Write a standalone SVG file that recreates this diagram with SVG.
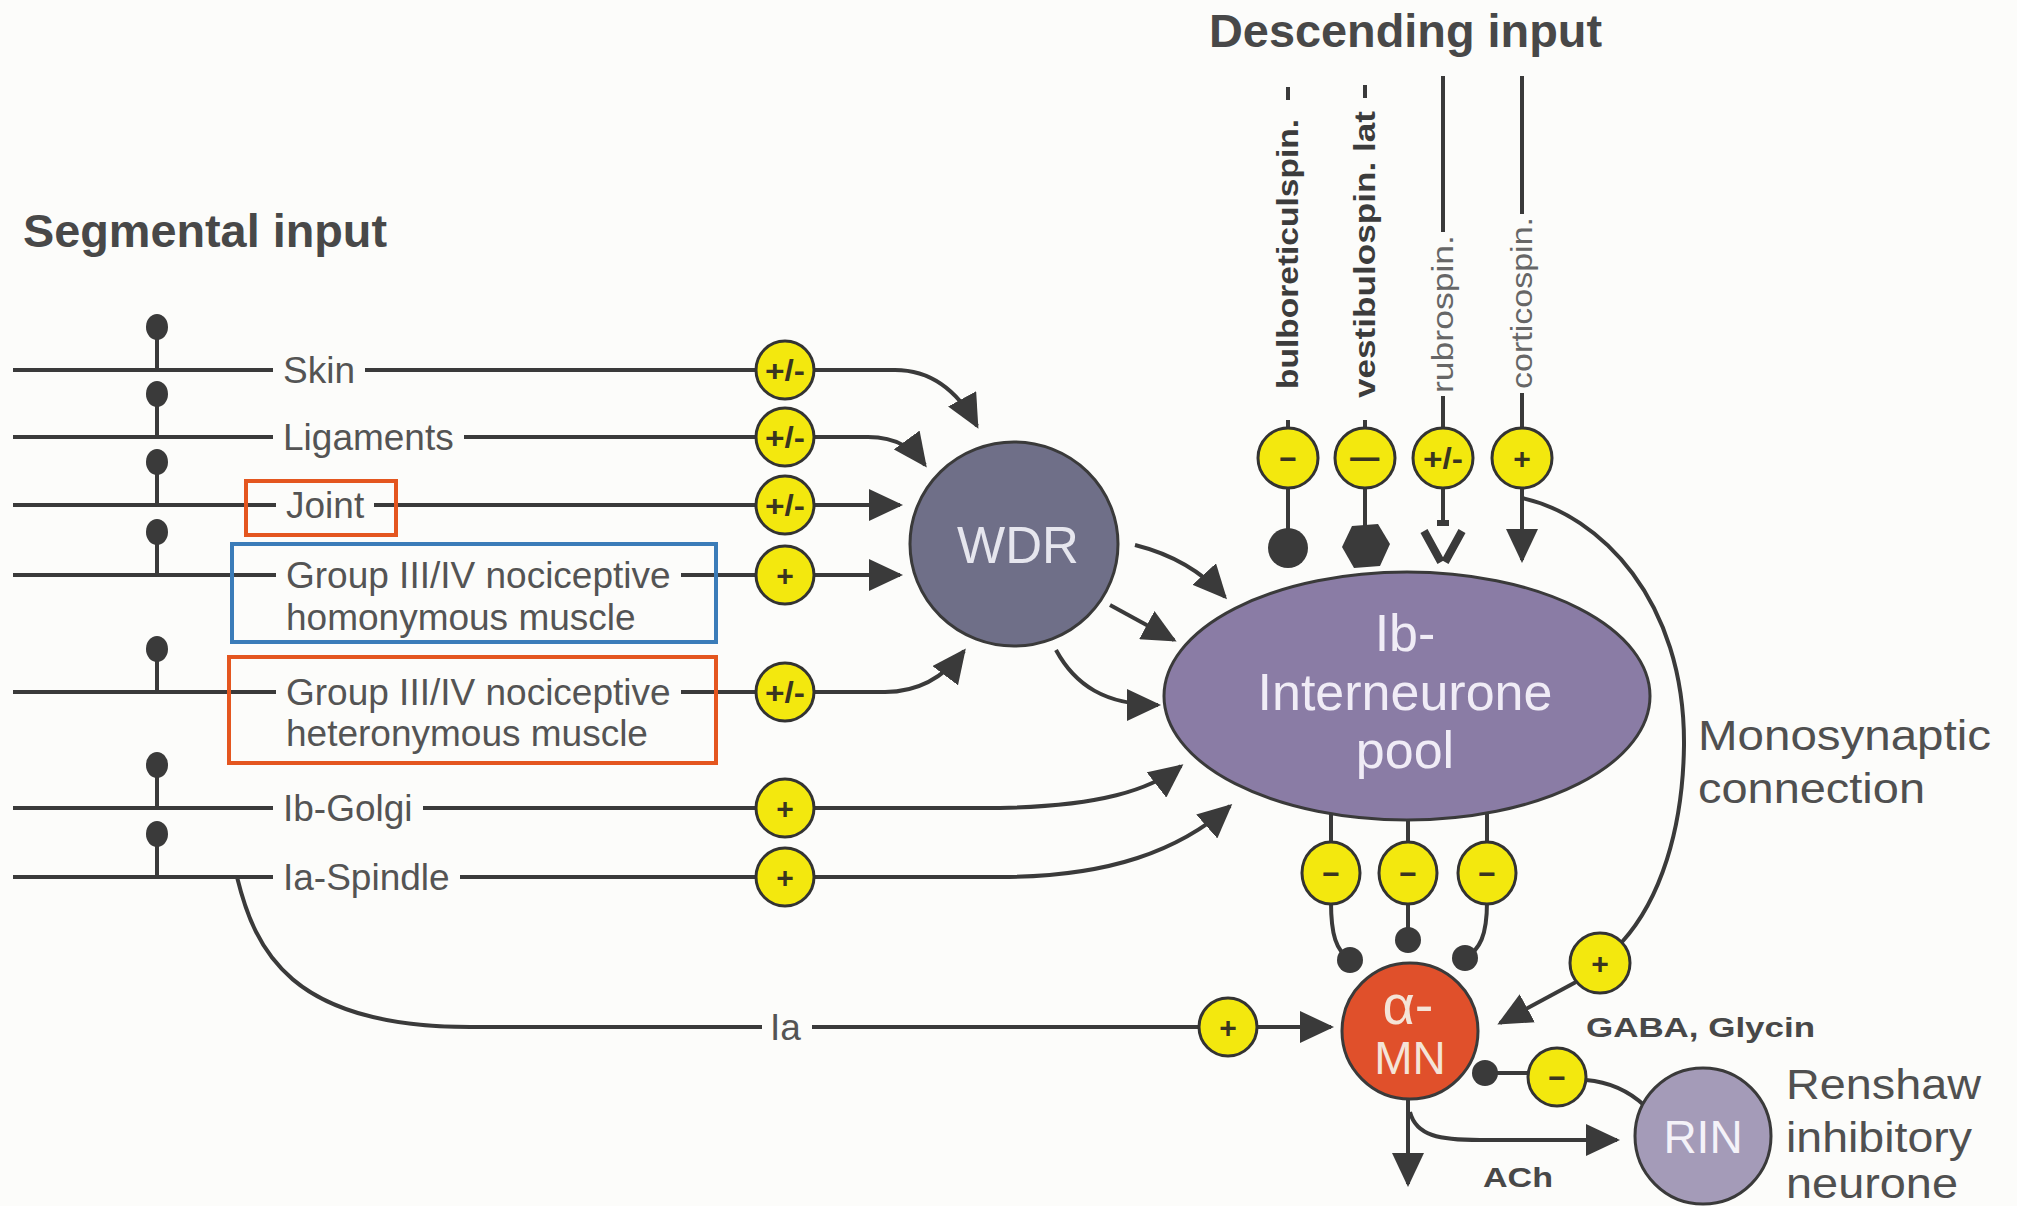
<svg xmlns="http://www.w3.org/2000/svg" width="2017" height="1206" viewBox="0 0 2017 1206">
<defs>
<style>
.ln{fill:none;stroke:#3a3a3a;stroke-width:4}
.lbl{font-family:"Liberation Sans",Arial,sans-serif;font-size:37px;fill:#545454}
.hd{font-family:"Liberation Sans",Arial,sans-serif;font-weight:bold;fill:#484848}
.big{font-family:"Liberation Sans",Arial,sans-serif;font-size:42px;fill:#505050}
.bdg{fill:#f3e80e;stroke:#333;stroke-width:3}
.bt{font-family:"Liberation Sans",Arial,sans-serif;font-weight:bold;font-size:30px;fill:#3a3520;text-anchor:middle}
.dot{fill:#3a3a3a}
.bulb{fill:#3a3a3a}
.box{fill:none;stroke-width:4}
.vt{font-family:"Liberation Sans",Arial,sans-serif;font-size:30px}
.nt{font-family:"Liberation Sans",Arial,sans-serif;text-anchor:middle}
</style>
<marker id="ah" viewBox="0 0 34 32" refX="31" refY="16" markerWidth="34" markerHeight="32" markerUnits="userSpaceOnUse" orient="auto"><path d="M0,0 L34,16 L0,32 z" fill="#3a3a3a"/></marker>
</defs>
<rect x="0" y="0" width="2017" height="1206" fill="#fcfcfa"/>

<text class="hd" x="23" y="247" font-size="47" textLength="364" lengthAdjust="spacingAndGlyphs">Segmental input</text>
<text class="hd" x="1209" y="47" font-size="46" textLength="393" lengthAdjust="spacingAndGlyphs">Descending input</text>

<g id="connectors">
  <!-- segmental input lines -->
  <path class="ln" d="M13,370 H273 M365,370 H756"/>
  <path class="ln" d="M13,437 H273 M464,437 H756"/>
  <path class="ln" d="M13,505 H276 M374,505 H756"/>
  <path class="ln" d="M13,575 H276 M681,575 H756"/>
  <path class="ln" d="M13,692 H276 M681,692 H756"/>
  <path class="ln" d="M13,808 H273 M423,808 H756"/>
  <path class="ln" d="M13,877 H273 M460,877 H756"/>
  <!-- stems -->
  <path class="ln" d="M157,339 V370 M157,406 V437 M157,474 V505 M157,544 V575 M157,661 V692 M157,777 V808 M157,846 V877"/>
  <!-- Ia branch -->
  <path class="ln" d="M237,877 C255,950 290,1027 470,1027 H762 M812,1027 H1199"/>
  <path class="ln" d="M1257,1027 H1331" marker-end="url(#ah)"/>
  <!-- badge to WDR -->
  <path class="ln" d="M814,370 L895,370 C935,370 960,395 977,426" marker-end="url(#ah)"/>
  <path class="ln" d="M814,437 L868,437 C898,437 914,450 925,465" marker-end="url(#ah)"/>
  <path class="ln" d="M814,505 L900,505" marker-end="url(#ah)"/>
  <path class="ln" d="M814,575 L900,575" marker-end="url(#ah)"/>
  <path class="ln" d="M814,692 L885,692 C920,692 945,676 964,651" marker-end="url(#ah)"/>
  <!-- badge to Ib pool -->
  <path class="ln" d="M814,808 L1000,808 C1100,806 1150,790 1181,766" marker-end="url(#ah)"/>
  <path class="ln" d="M814,877 L1000,877 C1110,877 1180,850 1230,806" marker-end="url(#ah)"/>
  <!-- WDR to pool -->
  <path class="ln" d="M1135,545 C1175,555 1205,575 1225,597" marker-end="url(#ah)"/>
  <path class="ln" d="M1110,605 L1174,640" marker-end="url(#ah)"/>
  <path class="ln" d="M1056,650 C1075,685 1105,705 1158,705" marker-end="url(#ah)"/>
  <!-- descending lines -->
  <path class="ln" d="M1288,87 V100 M1288,420 V430 M1288,488 V530"/>
  <path class="ln" d="M1365,85 V98 M1365,420 V430 M1365,488 V526"/>
  <path class="ln" d="M1443,76 V232 M1443,396 V430 M1443,488 V520"/>
  <path class="ln" d="M1522,76 V214 M1522,393 V430"/>
  <path class="ln" d="M1522,488 V560" marker-end="url(#ah)"/>
  <!-- monosynaptic -->
  <path class="ln" d="M1522,498 C1600,515 1685,600 1684,745 C1683,830 1660,900 1622,942"/>
  <path class="ln" d="M1576,982 L1500,1023" marker-end="url(#ah)"/>
  <!-- pool to alpha-MN -->
  <path class="ln" d="M1331,800 V845 M1408,800 V845 M1487,800 V845"/>
  <path class="ln" d="M1331,902 C1331,935 1336,950 1350,960"/>
  <path class="ln" d="M1408,902 V938"/>
  <path class="ln" d="M1487,902 C1487,935 1480,950 1465,958"/>
  <!-- alpha-MN outputs -->
  <path class="ln" d="M1408,1098 V1184" marker-end="url(#ah)"/>
  <path class="ln" d="M1410,1112 C1416,1136 1440,1140 1480,1140 L1617,1140" marker-end="url(#ah)"/>
  <path class="ln" d="M1485,1073 H1530"/>
  <path class="ln" d="M1586,1080 C1610,1082 1630,1092 1645,1106"/>
</g>

<!-- bulbs -->
<g id="receptors">
  <ellipse class="bulb" cx="157" cy="327" rx="11" ry="13"/>
  <ellipse class="bulb" cx="157" cy="394" rx="11" ry="13"/>
  <ellipse class="bulb" cx="157" cy="462" rx="11" ry="13"/>
  <ellipse class="bulb" cx="157" cy="532" rx="11" ry="13"/>
  <ellipse class="bulb" cx="157" cy="649" rx="11" ry="13"/>
  <ellipse class="bulb" cx="157" cy="765" rx="11" ry="13"/>
  <ellipse class="bulb" cx="157" cy="834" rx="11" ry="13"/>
</g>

<!-- boxes -->
<g id="boxes">
  <rect class="box" x="246" y="481" width="150" height="54" stroke="#e4561f"/>
  <rect class="box" x="232" y="544" width="484" height="98" stroke="#3b7cb8"/>
  <rect class="box" x="229" y="657" width="487" height="106" stroke="#e4561f"/>
</g>

<!-- segmental labels -->
<g id="labels">
  <text class="lbl" x="283" y="383">Skin</text>
  <text class="lbl" x="283" y="450">Ligaments</text>
  <text class="lbl" x="286" y="518">Joint</text>
  <text class="lbl" x="286" y="588">Group III/IV nociceptive</text>
  <text class="lbl" x="286" y="630">homonymous muscle</text>
  <text class="lbl" x="286" y="705">Group III/IV nociceptive</text>
  <text class="lbl" x="286" y="746">heteronymous muscle</text>
  <text class="lbl" x="283" y="821">Ib-Golgi</text>
  <text class="lbl" x="283" y="890">Ia-Spindle</text>
  <text class="lbl" x="770" y="1040">Ia</text>
</g>

<!-- badges -->
<g id="badges">
  <g><circle class="bdg" cx="785" cy="370" r="29"/><text class="bt" x="785" y="381" textLength="40" lengthAdjust="spacingAndGlyphs">+/-</text></g>
  <g><circle class="bdg" cx="785" cy="437" r="29"/><text class="bt" x="785" y="448" textLength="40" lengthAdjust="spacingAndGlyphs">+/-</text></g>
  <g><circle class="bdg" cx="785" cy="505" r="29"/><text class="bt" x="785" y="516" textLength="40" lengthAdjust="spacingAndGlyphs">+/-</text></g>
  <g><circle class="bdg" cx="785" cy="575" r="29"/><text class="bt" x="785" y="586">+</text></g>
  <g><circle class="bdg" cx="785" cy="692" r="29"/><text class="bt" x="785" y="703" textLength="40" lengthAdjust="spacingAndGlyphs">+/-</text></g>
  <g><circle class="bdg" cx="785" cy="808" r="29"/><text class="bt" x="785" y="819">+</text></g>
  <g><circle class="bdg" cx="785" cy="877" r="29"/><text class="bt" x="785" y="888">+</text></g>
  <g><circle class="bdg" cx="1228" cy="1027" r="29"/><text class="bt" x="1228" y="1038">+</text></g>
  <!-- descending -->
  <g><ellipse class="bdg" cx="1288" cy="458" rx="30" ry="30"/><text class="bt" x="1288" y="469">−</text></g>
  <g><ellipse class="bdg" cx="1365" cy="458" rx="30" ry="30"/><text class="bt" x="1365" y="469" textLength="34" lengthAdjust="spacingAndGlyphs">−</text></g>
  <g><ellipse class="bdg" cx="1443" cy="458" rx="30" ry="30"/><text class="bt" x="1443" y="469" textLength="40" lengthAdjust="spacingAndGlyphs">+/-</text></g>
  <g><ellipse class="bdg" cx="1522" cy="458" rx="30" ry="30"/><text class="bt" x="1522" y="469">+</text></g>
  <!-- pool to MN -->
  <g><ellipse class="bdg" cx="1331" cy="873" rx="29" ry="31"/><text class="bt" x="1331" y="884">−</text></g>
  <g><ellipse class="bdg" cx="1408" cy="873" rx="29" ry="31"/><text class="bt" x="1408" y="884">−</text></g>
  <g><ellipse class="bdg" cx="1487" cy="873" rx="29" ry="31"/><text class="bt" x="1487" y="884">−</text></g>
  <g><circle class="bdg" cx="1600" cy="963" r="30"/><text class="bt" x="1600" y="974">+</text></g>
  <g><circle class="bdg" cx="1557" cy="1077" r="29"/><text class="bt" x="1557" y="1088">−</text></g>
</g>

<!-- synapses -->
<g id="synapses">
  <circle class="dot" cx="1288" cy="548" r="20"/>
  <polygon class="dot" points="1352,526 1378,524 1390,544 1380,566 1354,568 1342,547"/>
  <path d="M1424,531 L1441,562 M1462,531 L1445,562" fill="none" stroke="#3a3a3a" stroke-width="8"/>
  <path d="M1437,523 H1449" fill="none" stroke="#3a3a3a" stroke-width="6"/>
  <circle class="dot" cx="1350" cy="960" r="13"/>
  <circle class="dot" cx="1408" cy="940" r="13"/>
  <circle class="dot" cx="1465" cy="958" r="13"/>
  <circle class="dot" cx="1485" cy="1073" r="13"/>
</g>

<!-- descending vertical labels -->
<g id="descending-labels">
  <text class="vt" font-weight="bold" fill="#3c3c3c" transform="translate(1298,389) rotate(-90)" textLength="270" lengthAdjust="spacingAndGlyphs">bulboreticulspin.</text>
  <text class="vt" font-weight="bold" fill="#3c3c3c" transform="translate(1375,398) rotate(-90)" textLength="287" lengthAdjust="spacingAndGlyphs">vestibulospin. lat</text>
  <text class="vt" fill="#666" transform="translate(1453,393) rotate(-90)" textLength="158" lengthAdjust="spacingAndGlyphs">rubrospin.</text>
  <text class="vt" fill="#666" transform="translate(1532,389) rotate(-90)" textLength="172" lengthAdjust="spacingAndGlyphs">corticospin.</text>
</g>

<!-- nodes -->
<g id="WDR">
  <ellipse cx="1014" cy="544" rx="104" ry="102" fill="#6f6f88" stroke="#3a3a3a" stroke-width="3"/>
  <text class="nt" x="1018" y="563" font-size="51" fill="#e6e6ee">WDR</text>
</g>
<g id="Ib-pool">
  <ellipse cx="1407" cy="696" rx="243" ry="124" fill="#8a7ca5" stroke="#3a3a3a" stroke-width="3"/>
  <text class="nt" font-size="52" fill="#f0ecf6"><tspan x="1405" y="651">Ib-</tspan><tspan x="1405" y="710">Interneurone</tspan><tspan x="1405" y="768">pool</tspan></text>
</g>
<g id="alpha-MN">
  <circle cx="1410" cy="1031" r="68" fill="#e0502b" stroke="#3a3a3a" stroke-width="3"/>
  <text class="nt" fill="#f4e4d8"><tspan x="1408" y="1024" font-size="56">α-</tspan><tspan x="1410" y="1074" font-size="46">MN</tspan></text>
</g>
<g id="RIN">
  <circle cx="1703" cy="1136" r="68" fill="#a49bb8" stroke="#3a3a3a" stroke-width="3"/>
  <text class="nt" x="1703" y="1153" font-size="46" fill="#f4f2f8">RIN</text>
</g>

<!-- other labels -->
<g id="annotations">
  <text class="big" x="1698" y="750" textLength="293" lengthAdjust="spacingAndGlyphs">Monosynaptic</text>
  <text class="big" x="1698" y="803" textLength="227" lengthAdjust="spacingAndGlyphs">connection</text>
  <text class="hd" x="1586" y="1037" font-size="27" fill="#6a6a86" textLength="229" lengthAdjust="spacingAndGlyphs">GABA, Glycin</text>
  <text class="hd" x="1483" y="1187" font-size="28" fill="#555" textLength="70" lengthAdjust="spacingAndGlyphs">ACh</text>
  <text class="big" x="1786" y="1099" textLength="195" lengthAdjust="spacingAndGlyphs">Renshaw</text>
  <text class="big" x="1786" y="1152" textLength="186" lengthAdjust="spacingAndGlyphs">inhibitory</text>
  <text class="big" x="1786" y="1198" textLength="172" lengthAdjust="spacingAndGlyphs">neurone</text>
</g>
</svg>
